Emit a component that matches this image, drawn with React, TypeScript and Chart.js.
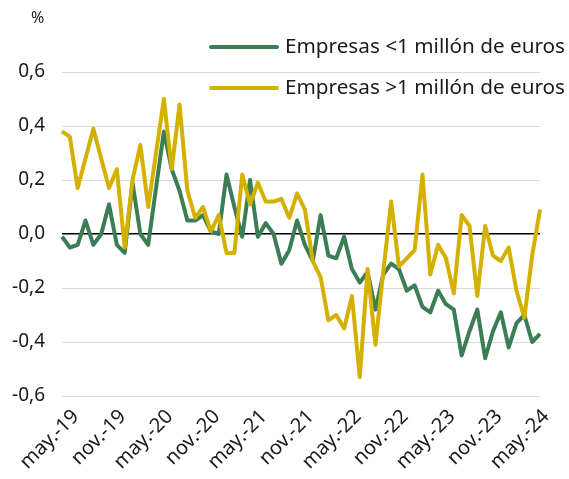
import React, { useEffect, useRef } from "react";
import { Chart, registerables } from "chart.js";

Chart.register(...registerables);

const months = [
  "abr.-19", "may.-19", "jun.-19", "jul.-19", "ago.-19", "sep.-19", "oct.-19", "nov.-19", "dic.-19",
  "ene.-20", "feb.-20", "mar.-20", "abr.-20", "may.-20", "jun.-20", "jul.-20", "ago.-20", "sep.-20", "oct.-20", "nov.-20", "dic.-20",
  "ene.-21", "feb.-21", "mar.-21", "abr.-21", "may.-21", "jun.-21", "jul.-21", "ago.-21", "sep.-21", "oct.-21", "nov.-21", "dic.-21",
  "ene.-22", "feb.-22", "mar.-22", "abr.-22", "may.-22", "jun.-22", "jul.-22", "ago.-22", "sep.-22", "oct.-22", "nov.-22", "dic.-22",
  "ene.-23", "feb.-23", "mar.-23", "abr.-23", "may.-23", "jun.-23", "jul.-23", "ago.-23", "sep.-23", "oct.-23", "nov.-23", "dic.-23",
  "ene.-24", "feb.-24", "mar.-24", "abr.-24", "may.-24",
];

const shownTicks = ["may.-19", "nov.-19", "may.-20", "nov.-20", "may.-21", "nov.-21", "may.-22", "nov.-22", "may.-23", "nov.-23", "may.-24"];

const pequenas = [
  -0.01, -0.05, -0.04, 0.05, -0.04, 0.0, 0.11, -0.04, -0.07, 0.19,
  0.0, -0.04, 0.17, 0.38, 0.24, 0.16, 0.05, 0.05, 0.07, 0.01,
  0.0, 0.22, 0.1, -0.01, 0.2, -0.01, 0.04, 0.0, -0.11, -0.06,
  0.05, -0.04, -0.1, 0.07, -0.08, -0.09, -0.01, -0.13, -0.18, -0.14,
  -0.28, -0.15, -0.11, -0.13, -0.21, -0.19, -0.27, -0.29, -0.21, -0.26,
  -0.28, -0.45, -0.36, -0.28, -0.46, -0.36, -0.29, -0.42, -0.33, -0.3,
  -0.4, -0.37,
];

const grandes = [
  0.38, 0.36, 0.17, 0.28, 0.39, 0.28, 0.17, 0.24, -0.05, 0.2,
  0.33, 0.1, 0.3, 0.5, 0.24, 0.48, 0.16, 0.06, 0.1, 0.01,
  0.07, -0.07, -0.07, 0.22, 0.11, 0.19, 0.12, 0.12, 0.13, 0.06,
  0.15, 0.09, -0.1, -0.16, -0.32, -0.3, -0.35, -0.23, -0.53, -0.13,
  -0.41, -0.14, 0.12, -0.12, -0.09, -0.06, 0.22, -0.15, -0.04, -0.09,
  -0.22, 0.07, 0.03, -0.23, 0.03, -0.08, -0.1, -0.05, -0.21, -0.31,
  -0.08, 0.09,
];

const seriesNames = ["Empresas <1 millón de euros", "Empresas >1 millón de euros"];
const seriesColors = ["#3b7d55", "#d4b000"];
const unitLabel = "%";
const yMin = -0.6;
const yMax = 0.6;
const yStep = 0.2;

const FONT = '"Noto Sans", sans-serif';

const overlayPlugin = {
  id: "overlayLegend",
  afterDraw(chart: any) {
    const ctx = chart.ctx;
    ctx.save();
    ctx.fillStyle = "#1a1a1a";
    ctx.textBaseline = "middle";
    ctx.textAlign = "left";
    ctx.font = `16px ${FONT}`;
    ctx.fillText(unitLabel, 31, 18);
    ctx.font = `20.7px ${FONT}`;
    const rows = [47, 88];
    chart.data.datasets.forEach((ds: any, i: number) => {
      const y = rows[i];
      ctx.strokeStyle = ds.borderColor;
      ctx.lineWidth = 4;
      ctx.lineCap = "round";
      ctx.beginPath();
      ctx.moveTo(211, y);
      ctx.lineTo(277, y);
      ctx.stroke();
      ctx.fillText(ds.label, 285, y);
    });
    ctx.restore();
  },
};

export default function App() {
  const ref = useRef<HTMLCanvasElement | null>(null);

  useEffect(() => {
    document.body.style.margin = "0";
    if (!ref.current) return;
    const chart = new Chart(ref.current, {
      type: "line",
      data: {
        labels: months,
        datasets: [
          {
            label: seriesNames[0],
            data: pequenas,
            borderColor: seriesColors[0],
            backgroundColor: seriesColors[0],
            borderWidth: 4,
            pointRadius: 0,
            tension: 0,
            borderJoinStyle: "round",
            order: 1,
          },
          {
            label: seriesNames[1],
            data: grandes,
            borderColor: seriesColors[1],
            backgroundColor: seriesColors[1],
            borderWidth: 4,
            pointRadius: 0,
            tension: 0,
            borderJoinStyle: "round",
            order: 0,
          },
        ],
      },
      options: {
        animation: false,
        responsive: false,
        maintainAspectRatio: false,
        layout: { padding: { left: 0, right: 29, top: 72, bottom: 0 } },
        plugins: {
          legend: { display: false },
          tooltip: { enabled: false },
          title: { display: false },
        },
        scales: {
          x: {
            type: "category",
            offset: false,
            grid: { display: false, drawTicks: false },
            border: { display: false },
            afterFit: (s: any) => {
              s.height = 83;
            },
            ticks: {
              autoSkip: false,
              maxRotation: 45,
              minRotation: 45,
              padding: 9,
              labelOffset: 6,
              color: "#1a1a1a",
              font: { family: FONT, size: 20 },
              callback: function (this: any, _v: any, i: number) {
                const l = months[i];
                return shownTicks.includes(l) ? l : "";
              },
            },
          },
          y: {
            min: yMin,
            max: yMax,
            grid: {
              drawTicks: false,
              color: (c: any) => (c.tick && Math.abs(c.tick.value) < 1e-9 ? "#000000" : "#d9d9d9"),
              lineWidth: (c: any) => (c.tick && Math.abs(c.tick.value) < 1e-9 ? 1.6 : 1),
            },
            border: { display: false },
            afterFit: (s: any) => {
              s.width = 62;
            },
            ticks: {
              stepSize: yStep,
              padding: 17,
              color: "#1a1a1a",
              font: { family: FONT, size: 19 },
              callback: (v: any) => {
                const n = Number(v);
                if (Math.abs(n) < 1e-9) return "0,0";
                return n.toFixed(1).replace(".", ",");
              },
            },
          },
        },
      },
      plugins: [overlayPlugin],
    });
    return () => chart.destroy();
  }, []);

  return (
    <div style={{ width: 569, height: 479 }}>
      <canvas ref={ref} width={569} height={479} style={{ width: 569, height: 479, display: "block" }} />
    </div>
  );
}
